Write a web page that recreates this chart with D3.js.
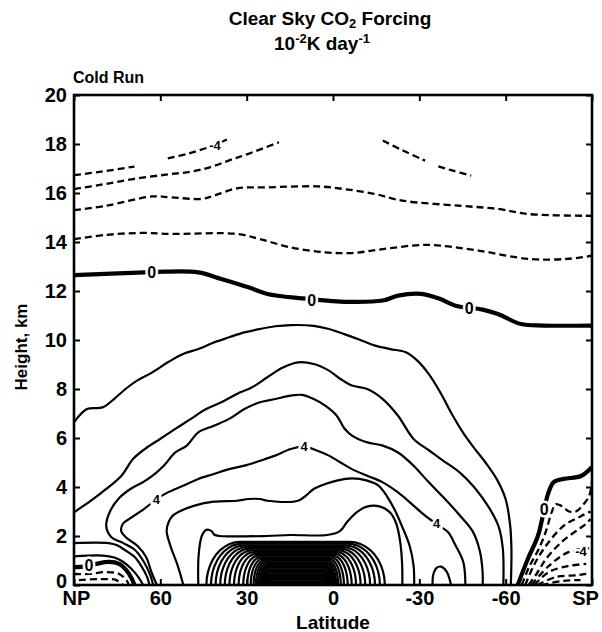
<!DOCTYPE html>
<html>
<head>
<script src="https://cdn.jsdelivr.net/npm/d3@7"></script>
<style>
  body { margin: 0; background: #fff; font-family: "Liberation Sans", Arial, sans-serif; }
  .axis path { display: none; }
  .axis line { stroke: #000; stroke-width: 2; }
  .axis text { font-size: 20px; font-weight: bold; fill: #000; font-family: "Liberation Sans", Arial, sans-serif; }
  .clab { font-weight: bold; fill: #000; stroke: #fff; stroke-width: 5px; paint-order: stroke; text-anchor: middle; dominant-baseline: central; }
</style>
</head>
<body>
<script>
// ---- axes ----
var latTicks = [90, 60, 30, 0, -30, -60, -90];
var latNames = ["NP", "60", "30", "0", "-30", "-60", "SP"];
var kmTicks = [0, 2, 4, 6, 8, 10, 12, 14, 16, 18, 20];

// ---- contour lines, [latitude, km] ----
// negative (dashed)
var neg4a = [[90,16.73],[80,16.88],[69,17.08]];
var neg4b = [[57.4,17.41],[50,17.62],[42,17.92],[36,18.23]];
var neg4c = [[-17.3,18.14],[-24,17.75],[-32,17.32]];
var neg4d = [[-36.6,17.09],[-42,16.9],[-48,16.71]];
var neg3 = [[90,16.16],[80,16.35],[69.5,16.57],[58,16.75],[49.4,16.87],[42.8,17.05],[36.1,17.33],[29.4,17.6],[18.8,18.07]];
var neg2 = [[90,15.3],[78.8,15.48],[62.8,15.86],[56.1,15.82],[45.4,15.76],[41.4,15.89],[33.4,16.19],[22.8,16.23],[5.4,16.27],[-3.9,16.16],[-14.6,15.96],[-24,15.69],[-44,15.48],[-57.3,15.35],[-68,15.14],[-90,15.07]];
var neg1 = [[90,14.12],[78.8,14.29],[66.8,14.37],[56.1,14.33],[33.4,14.33],[25.4,14.12],[14.7,13.78],[2.7,13.58],[-6.6,13.55],[-17.3,13.71],[-30.6,13.88],[-37.3,13.85],[-50.6,13.65],[-68,13.31],[-81.3,13.31],[-90,13.44]];
var npNeg1 = [[90,0.45],[84.8,0.45],[78.8,0.53],[74.3,0.45],[71.5,0.15],[71,0]];
var npNeg2 = [[88.3,0.2],[81.3,0.24],[75.3,0.2],[73,0]];
var spNeg1 = [[-65.6,0],[-68,0.7],[-71.5,1.47],[-74,2.2],[-76,2.98],[-77.4,3.3],[-79.5,3.22],[-82,3.0],[-84.4,3.0],[-86.5,3.22],[-89,3.63],[-90,4.2]];
var spNeg7 = [[-66.8,0],[-70,0.85],[-74,1.6],[-80,2.4],[-86,2.8],[-89.5,3.0]];
var spNeg2 = [[-68,0],[-71,0.5],[-74,1.06],[-79.5,1.76],[-85.5,2.29],[-88,2.5],[-89.5,2.7]];
var spNeg3 = [[-69,0],[-75,0.78],[-82,1.35],[-89,1.5]];
var spNeg4 = [[-70,0],[-75,0.53],[-82,0.78],[-88,0.86]];
var spNeg5 = [[-71,0],[-77.5,0.33],[-85,0.4],[-88,0.45]];
var spNeg6 = [[-72.5,0],[-80,0.17],[-86,0.2]];

// zero (thick)
var zeroTop = [[90,12.65],[65.4,12.76],[58.8,12.79],[46.8,12.76],[38.8,12.49],[29.4,12.15],[22.8,11.88],[10.7,11.7],[4.1,11.63],[-3.9,11.56],[-17.3,11.61],[-22.6,11.81],[-30.6,11.88],[-37.3,11.67],[-42.6,11.4],[-52,11.24],[-57.3,11.06],[-65.3,10.65],[-73.3,10.59],[-90,10.59]];
var zeroNP = [[90,0.73],[86,0.76],[82.3,0.86],[77.8,0.94],[74.3,0.86],[71.9,0.62],[70,0.28],[69,0]];
var zeroSP = [[-90,4.82],[-86.2,4.45],[-80.2,4.33],[-76.7,4.2],[-74.7,3.71],[-72.9,2.82],[-71.2,2.0],[-67.7,1.06],[-64.2,0]];

// positive (solid)
var c1 = [[90,6.64],[85.5,7.18],[80.1,7.25],[76.1,7.59],[72.1,8.0],[68.1,8.34],[62.8,8.68],[57.4,9.09],[52.1,9.43],[46.8,9.63],[41.4,9.9],[36.1,10.11],[30.8,10.31],[25.4,10.45],[20.1,10.56],[14.7,10.61],[6.7,10.58],[1.4,10.45],[-3.9,10.24],[-9.3,10.01],[-14.6,9.77],[-19.9,9.63],[-25.3,9.5],[-29.3,9.16],[-33.3,8.61],[-37.3,7.86],[-41.3,6.98],[-45.3,6.2],[-49,5.6],[-53,5.0],[-57,4.3],[-60,3.5],[-61.5,2.5],[-62,1.5],[-61.8,0]];
var c2 = [[90,2.97],[84.1,3.44],[78.8,3.92],[73.5,4.46],[69.5,5.14],[65.4,5.55],[60.1,5.96],[54.8,6.37],[49.4,6.78],[44.1,7.18],[38.8,7.46],[33.4,7.8],[28.1,8.07],[22.8,8.48],[17.4,8.88],[12.1,9.09],[6.7,9.02],[1.4,8.75],[-2.6,8.41],[-6.6,8.14],[-11.9,8.0],[-17.3,7.59],[-22.6,6.91],[-28,5.96],[-33.3,5.5],[-38,5.1],[-44,4.6],[-49,4.0],[-54,3.2],[-57.5,2.4],[-59,1.5],[-59.2,0]];
var c3 = [[62.5,0],[63.5,0.4],[66,1.0],[69,1.45],[73,1.72],[77,1.95],[78.8,2.4],[77.5,3.0],[74.3,3.55],[70,3.95],[66,4.2],[62.8,4.45],[58.8,4.87],[54.8,5.41],[50.8,5.69],[46.8,6.23],[41.4,6.5],[36.1,6.78],[30.8,7.18],[25.4,7.46],[20.1,7.59],[14.7,7.73],[10.7,7.76],[6.7,7.59],[2.7,7.32],[-1.3,6.91],[-3.9,6.4],[-6.6,6.1],[-11.9,5.82],[-17.3,5.69],[-22.6,5.41],[-28,4.87],[-33.3,4.19],[-38.6,3.55],[-44,2.85],[-48.5,2.2],[-51,1.4],[-52,0.5],[-52,0]];
var c4 = [[61.2,0],[63,0.5],[65,1.15],[68,1.6],[72,1.95],[73.6,2.2],[73,2.5],[70.1,2.75],[66.3,3.05],[63.5,3.3],[61.4,3.5],[57.4,3.78],[52.1,4.05],[46.8,4.33],[41.4,4.53],[36.1,4.73],[30.8,4.87],[25.4,5.07],[20.1,5.28],[14.7,5.55],[10,5.65],[5.4,5.48],[1.4,5.28],[-2.6,5.0],[-6.6,4.73],[-11.9,4.46],[-17.3,4.19],[-22.6,3.78],[-28,3.24],[-32,2.83],[-36,2.49],[-40,2.15],[-42.6,1.61],[-45.3,0.93],[-46,0]];
var c5 = [[52,0],[54,0.8],[56.5,1.6],[57.8,2.2],[57,2.6],[55.5,2.85],[53.4,3.0],[48.1,3.24],[41.4,3.4],[33.4,3.44],[29.4,3.51],[25.4,3.51],[22.8,3.44],[12.1,3.44],[9.4,3.65],[6.7,3.92],[2.7,4.12],[-1.3,4.26],[-6.6,4.35],[-11.9,4.26],[-15.9,4.05],[-18.6,3.65],[-21.3,3.1],[-23.9,2.42],[-26.6,1.61],[-28,0.79],[-28.2,0]];
var c6 = [[46.8,0],[46.7,1.2],[45.6,2.0],[44,2.25],[42.2,2.2],[41.2,2.05],[39.4,2.0],[23,2.0],[15,2.04],[2.1,2.04],[-2.4,2.2],[-4.9,2.57],[-8.4,2.98],[-11.8,3.2],[-16.4,3.2],[-19.9,2.95],[-22,2.5],[-23.3,1.8],[-24,0.9],[-24.1,0]];
var npBox1 = [[90,1.71],[78,1.71],[75,1.62],[72,1.4],[69,1.15],[66.5,0.75],[64.5,0.3],[63.8,0]];
var npBox2 = [[90,1.17],[80,1.2],[76,1.12],[73,0.95],[70,0.65],[67.5,0.3],[66,0]];
var bump = [[-34.6,0],[-34.8,0.4],[-36,0.7],[-37.5,0.75],[-39.5,0.55],[-40.6,0.2],[-41,0]];

// tightly packed arcs over the low-level core: left foot, right foot, top (km)
var coreLeft  = [44.0, 42.4, 40.8, 39.2, 37.6, 36.0, 34.4, 32.8, 31.2, 29.8, 28.6, 27.6, 26.8, 26.1, 25.5, 25.0, 24.6, 24.2, 23.9, 23.6, 23.4, 23.2, 23.0, 22.8, 22.7, 22.6];
var coreRight = [-18.0, -16.3, -14.6, -12.9, -11.2, -9.6, -8.0, -6.5, -5.1, -3.8, -2.7, -1.8, -1.1, -0.5, 0.0, 0.4, 0.7, 1.0, 1.2, 1.4, 1.6, 1.8, 2.0, 2.2, 2.3, 2.4];
var coreTop   = [1.76, 1.69, 1.62, 1.55, 1.48, 1.41, 1.34, 1.27, 1.2, 1.13, 1.06, 0.99, 0.92, 0.85, 0.78, 0.71, 0.64, 0.57, 0.5, 0.43, 0.36, 0.29, 0.22, 0.15, 0.09, 0.04];

// contour labels
var labText = ["0", "0", "0", "0", "0", "4", "4", "4", "-4", "-4"];
var labLat  = [63, 7.4, -47.3, 84.8, -73.4, 61.4, 10, -36, 41, -86.2];
var labKm   = [12.76, 11.6, 11.3, 0.8, 3.1, 3.5, 5.65, 2.49, 17.95, 1.35];

var W = 602, H = 632;
var margin = { left: 74, right: 10, top: 95, bottom: 47 };

var svg = d3.select("body").append("svg")
    .attr("width", W)
    .attr("height", H);

var x = d3.scaleLinear().domain([90, -90]).range([margin.left, W - margin.right]);
var y = d3.scaleLinear().domain([0, 20]).range([H - margin.bottom, margin.top]);

svg.append("clipPath").attr("id", "plot")
  .append("rect")
    .attr("x", x(90)).attr("y", y(20))
    .attr("width", x(-90) - x(90)).attr("height", y(0) - y(20));

var line = d3.line()
    .x(function(d) { return x(d[0]); })
    .y(function(d) { return y(d[1]); })
    .curve(d3.curveCatmullRom.alpha(0.5));

var g = svg.append("g").attr("clip-path", "url(#plot)");

// build the core arcs from their feet and tops (quarter ellipses joined by a flat top)
var coreArcs = coreLeft.map(function(L, i) {
  var R = coreRight[i], h = coreTop[i];
  var aL = 1 + 0.5 * (L - 22.6), aR = 1 + 0.55 * (2.4 - R);
  var pts = [];
  for (var k = 0; k <= 10; k++) {
    var t = k / 10 * Math.PI / 2;
    pts.push([L - aL + aL * Math.cos(t), h * Math.sin(t)]);
  }
  for (var k = 10; k >= 0; k--) {
    var t = k / 10 * Math.PI / 2;
    pts.push([R + aR - aR * Math.cos(t), h * Math.sin(t)]);
  }
  return pts;
});

var lineArc = d3.line()
    .x(function(d) { return x(d[0]); })
    .y(function(d) { return y(d[1]); });

g.selectAll(".core").data(coreArcs).enter().append("path")
    .attr("class", "core")
    .attr("d", lineArc)
    .attr("fill", "none").attr("stroke", "#000").attr("stroke-width", 2.2);

var solid = [c1, c2, c3, c4, c5, c6, npBox1, npBox2, bump];
g.selectAll(".pos").data(solid).enter().append("path")
    .attr("class", "pos")
    .attr("d", line)
    .attr("fill", "none").attr("stroke", "#000").attr("stroke-width", 2.2);

var dashed = [neg4a, neg4b, neg4c, neg4d, neg3, neg2, neg1, npNeg1, npNeg2, spNeg1, spNeg7, spNeg2, spNeg3, spNeg4, spNeg5, spNeg6];
g.selectAll(".neg").data(dashed).enter().append("path")
    .attr("class", "neg")
    .attr("d", line)
    .attr("fill", "none").attr("stroke", "#000").attr("stroke-width", 2.3)
    .attr("stroke-dasharray", "7,4");

var zero = [zeroTop, zeroNP, zeroSP];
g.selectAll(".zero").data(zero).enter().append("path")
    .attr("class", "zero")
    .attr("d", line)
    .attr("fill", "none").attr("stroke", "#000").attr("stroke-width", 4.2);

// contour labels
svg.selectAll(".clab").data(labText).enter().append("text")
    .attr("class", "clab")
    .attr("x", function(d, i) { return x(labLat[i]); })
    .attr("y", function(d, i) { return y(labKm[i]); })
    .style("font-size", function(d) { return d == "0" ? "16px" : "13px"; })
    .text(function(d) { return d; });

// frame
svg.append("rect")
    .attr("x", x(90)).attr("y", y(20))
    .attr("width", x(-90) - x(90)).attr("height", y(0) - y(20))
    .attr("fill", "none").attr("stroke", "#000").attr("stroke-width", 2.6);

// axes with inward ticks
var xAxis = svg.append("g").attr("class", "axis")
    .attr("transform", "translate(0," + y(0) + ")")
    .call(d3.axisBottom(x).tickValues(latTicks).tickSize(-6).tickPadding(6)
      .tickFormat(function(d, i) { return latNames[i]; }));
xAxis.selectAll("text").attr("dx", function(d) { return d == -90 ? -7 : (d == 90 ? 2 : 0); });
svg.append("g").attr("class", "axis")
    .attr("transform", "translate(0," + y(20) + ")")
    .call(d3.axisTop(x).tickValues(latTicks).tickSize(-6).tickFormat(""));
var yAxis = svg.append("g").attr("class", "axis")
    .attr("transform", "translate(" + x(90) + ",0)")
    .call(d3.axisLeft(y).tickValues(kmTicks).tickSize(-6).tickPadding(7));
yAxis.selectAll("text").filter(function(d) { return d == 0; }).attr("dy", "0.1em");
svg.append("g").attr("class", "axis")
    .attr("transform", "translate(" + x(-90) + ",0)")
    .call(d3.axisRight(y).tickValues(kmTicks).tickSize(-6).tickFormat(""));

// titles
var t1 = svg.append("text").attr("x", 330).attr("y", 25)
    .attr("text-anchor", "middle").style("font-size", "19px").style("font-weight", "bold");
t1.append("tspan").text("Clear Sky CO");
t1.append("tspan").attr("dy", 3).style("font-size", "13px").text("2");
t1.append("tspan").attr("dy", -3).text(" Forcing");

var t2 = svg.append("text").attr("x", 322).attr("y", 50)
    .attr("text-anchor", "middle").style("font-size", "19px").style("font-weight", "bold");
t2.append("tspan").text("10");
t2.append("tspan").attr("dy", -7).style("font-size", "13px").text("-2");
t2.append("tspan").attr("dy", 7).text("K day");
t2.append("tspan").attr("dy", -7).style("font-size", "13px").text("-1");

svg.append("text").attr("x", 73).attr("y", 83)
    .style("font-size", "16px").style("font-weight", "bold").text("Cold Run");

svg.append("text").attr("x", x(0)).attr("y", 629)
    .attr("text-anchor", "middle").style("font-size", "19px").style("font-weight", "bold")
    .text("Latitude");

svg.append("text")
    .attr("transform", "translate(27,347) rotate(-90)")
    .attr("text-anchor", "middle").style("font-size", "17px").style("font-weight", "bold")
    .text("Height, km");
</script>
</body>
</html>
